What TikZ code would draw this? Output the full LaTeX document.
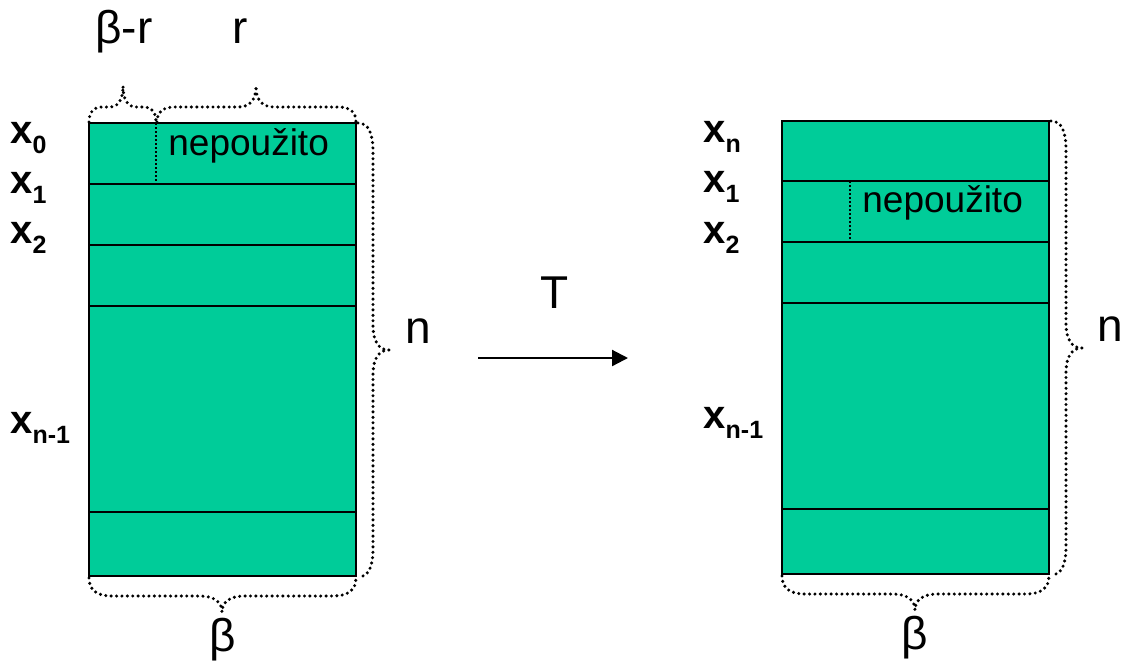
\documentclass[tikz,border=0pt]{standalone}
\usepackage{fontspec}
\setmainfont{Liberation Sans}
\usetikzlibrary{arrows.meta}
\definecolor{cellfill}{RGB}{0,204,153}
% bold x with a bold lowered index
\newcommand\xlab[1]{\textbf{x}\raisebox{-5pt}{\fontsize{12.5}{14}\selectfont\bfseries #1}}

\begin{document}
\begin{tikzpicture}[x=0.5pt,y=-0.5pt,
  cell/.style={fill=cellfill,draw=black,line width=1.2pt},
  rowline/.style={line width=1.2pt},
  divider/.style={line width=1.1pt,dash pattern=on 1pt off 1pt},
  bracepath/.style={line width=1.7pt,line cap=round,dash pattern=on 0pt off 2.7pt},
  big/.style={font=\fontsize{23}{27}\selectfont,inner sep=0pt,anchor=base},
  bigw/.style={font=\fontsize{23}{27}\selectfont,inner sep=0pt,anchor=base west},
  idx/.style={font=\fontsize{20}{24}\selectfont,inner sep=0pt,anchor=base west},
  note/.style={font=\fontsize{18.5}{22}\selectfont,inner sep=0pt,anchor=base west},
  vbrace/.pic={\draw[bracepath] (358,123) .. controls (369,123) and (373,134) .. (373,152)
      -- (373,325) .. controls (373,342) and (379,350) .. (389,350)
      .. controls (379,350) and (373,358) .. (373,375)
      -- (373,548) .. controls (373,566) and (369,577) .. (358,577);},
  hbrace/.pic={\draw[bracepath] (89,578) .. controls (89,590) and (97,596) .. (112,596)
      -- (200,596) .. controls (214,596) and (222,602) .. (222,612)
      .. controls (222,602) and (230,596) .. (244,596)
      -- (333,596) .. controls (348,596) and (356,590) .. (356,578);}]
\useasboundingbox (0,0) rectangle (1124,661);

% ---------- left block ----------
\coordinate (L1) at (89,123);
\coordinate (L2) at (356,576);
\draw[cell] (L1) rectangle (L2);
\foreach \yy in {184,245,306,512}
  \draw[rowline] (89,\yy) -- (356,\yy);
\coordinate (LdA) at (156,123);
\coordinate (LdB) at (156,184);
\draw[divider] (LdA) -- (LdB);
\node[note] (Lnote) at (168,155) {nepoužito};

% braces over the first row
\draw[bracepath] (89,122) .. controls (89,113) and (93,107) .. (102,107) -- (110,107)
  .. controls (118,107) and (123,100) .. (123,86)
  .. controls (123,100) and (128,107) .. (136,107)
  -- (145,107) .. controls (152,107) and (156,113) .. (156,122);
\draw[bracepath] (157,122) .. controls (157,112) and (163,107) .. (175,107) -- (238,107)
  .. controls (250,107) and (256,100) .. (256,86)
  .. controls (256,100) and (262,107) .. (274,107)
  -- (338,107) .. controls (350,107) and (356,112) .. (356,122);
\node[bigw] (lbBr) at (95,43) {β-r};
\node[big] (lbR) at (240,43) {r};

% braces along the height and the width
\pic (Lv) at (0,0) {vbrace};
\node[bigw] (lbN1) at (405,343) {n};
\pic (Lh) at (0,0) {hbrace};
\node[big] (lbB1) at (223,651) {β};

% row labels
\node[idx] (l0) at (10,143) {\xlab{0}};
\node[idx] (l1) at (10,193) {\xlab{1}};
\node[idx] (l2) at (10,243) {\xlab{2}};
\node[idx] (l3) at (10,433) {\xlab{n-1}};

% ---------- transformation arrow ----------
\coordinate (arS) at (478,358);
\coordinate (arE) at (628,358);
\draw[line width=1.1pt,-{Triangle[length=8pt,width=8pt]}] (arS) -- (arE);
\node[big] (lbT) at (555,308) {T};

% ---------- right block ----------
\coordinate (R1) at (782,121);
\coordinate (R2) at (1049,574);
\draw[cell] (R1) rectangle (R2);
\foreach \yy in {181,242,303,509}
  \draw[rowline] (782,\yy) -- (1049,\yy);
\coordinate (RdA) at (850,181);
\coordinate (RdB) at (850,242);
\draw[divider] (RdA) -- (RdB);
\node[note] (Rnote) at (862,212) {nepoužito};

\pic (Rv) at (693,-2) {vbrace};
\node[bigw] (lbN2) at (1097,341) {n};
\pic (Rh) at (693,-2) {hbrace};
\node[big] (lbB2) at (915,649) {β};

\node[idx] (r0) at (703,142) {\xlab{n}};
\node[idx] (r1) at (703,192) {\xlab{1}};
\node[idx] (r2) at (703,243) {\xlab{2}};
\node[idx] (r3) at (703,428) {\xlab{n-1}};
\end{tikzpicture}
\end{document}
